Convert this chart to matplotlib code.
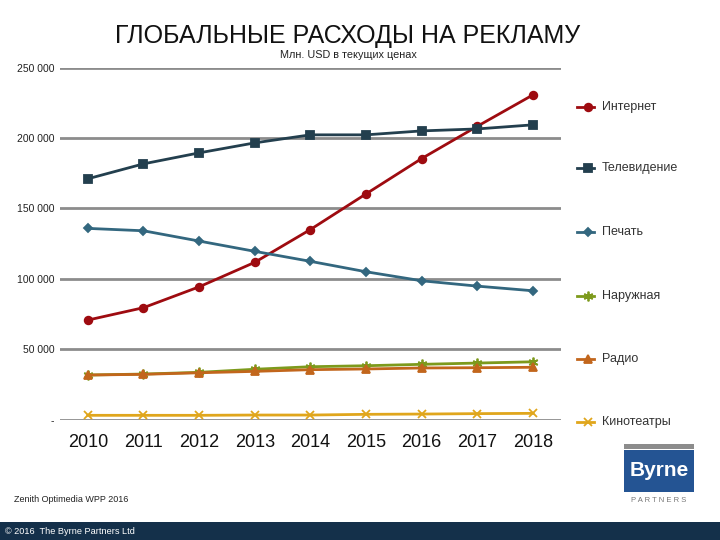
import matplotlib
matplotlib.use("Agg")
import matplotlib.pyplot as plt
from matplotlib.patches import Rectangle

plt.rcParams['font.family'] = ['Liberation Sans', 'DejaVu Sans']

years = ['2010', '2011', '2012', '2013', '2014', '2015', '2016', '2017', '2018']
internet = [70700, 79500, 94300, 111700, 135000, 160300, 185400, 208300, 230600]
tv = [171000, 181600, 189400, 196500, 202200, 202200, 205000, 206400, 209300]
press = [135800, 134100, 126800, 119500, 112400, 105000, 98600, 94800, 91500]
outdoor = [31700, 32400, 33600, 35800, 37600, 38300, 39300, 40200, 41100]
radio = [31700, 32200, 33300, 34300, 35500, 36000, 36700, 36900, 37200]
cinema = [3100, 3100, 3100, 3300, 3300, 3800, 4000, 4300, 4500]

series_names = ['Интернет', 'Телевидение', 'Печать', 'Наружная', 'Радио', 'Кинотеатры']
series_values = [internet, tv, press, outdoor, radio, cinema]
colors = ['#9e0b10', '#233f4e', '#33677f', '#7d9a1c', '#c2661c', '#e0a61c']
markers = ['o', 's', 'D', (6, 2, 0), '^', 'x']
msizes = [5.5, 5.5, 4, 7, 5.5, 6]

yticks = [0, 50000, 100000, 150000, 200000, 250000]
ytick_labels = ['-', '50 000', '100 000', '150 000', '200 000', '250 000']

fig = plt.figure(figsize=(7.2, 5.4), dpi=100)
ax = fig.add_axes([0.0833, 0.2228, 0.6957, 0.6522])

x = list(range(len(years)))
for name, vals, c, m, ms in zip(series_names, series_values, colors, markers, msizes):
    ax.plot(x, vals, color=c, lw=2.0, marker=m, ms=ms, mew=1.3, mfc=c, mec=c,
            label=name, zorder=3)

ax.set_xlim(-0.5, len(years) - 0.5)
ax.set_ylim(0, 250000)
ax.set_yticks(yticks)
ax.set_yticklabels(ytick_labels, fontsize=7.5, color='#222222')
ax.set_xticks(x)
ax.set_xticklabels(years, fontsize=13, color='#111111')
ax.tick_params(axis='both', length=0)
ax.tick_params(axis='y', pad=4)
ax.tick_params(axis='x', pad=10)
ax.grid(axis='y', color='#8c8c8c', lw=2, zorder=1)
ax.set_axisbelow(True)
for s in ax.spines.values():
    s.set_visible(False)

# legend entries placed at right
leg_y = [107, 168, 232, 296, 359, 422]
for name, c, m, ms, yy in zip(series_names, colors, markers, msizes, leg_y):
    yf = 1 - yy / 540
    fig.add_artist(plt.Line2D([577 / 720, 594 / 720], [yf, yf], color=c, lw=2.0,
                              transform=fig.transFigure))
    fig.add_artist(plt.Line2D([588 / 720], [yf], color=c, marker=m, ms=ms, mew=1.3,
                              mfc=c, mec=c, transform=fig.transFigure))
    fig.text(602 / 720, yf, name, fontsize=9, color='#333333', va='center', ha='left')

fig.text(348 / 720, 1 - 36 / 540, 'ГЛОБАЛЬНЫЕ РАСХОДЫ НА РЕКЛАМУ', fontsize=18,
         ha='center', va='center', color='#111111')
fig.text(348 / 720, 1 - 55 / 540, 'Млн. USD в текущих ценах', fontsize=7.8,
         ha='center', va='center', color='#222222')

fig.text(14 / 720, 1 - 500 / 540, 'Zenith Optimedia WPP 2016', fontsize=6.5,
         ha='left', va='center', color='#222222')

# footer band
fig.add_artist(Rectangle((0, 0), 1, 18 / 540, transform=fig.transFigure,
                         facecolor='#14304a', edgecolor='none'))
fig.text(5 / 720, 9 / 540, '© 2016  The Byrne Partners Ltd', fontsize=6.6,
         ha='left', va='center', color='white')

# logo
fig.add_artist(Rectangle((624 / 720, 1 - 449 / 540), 70 / 720, 5 / 540,
                         transform=fig.transFigure, facecolor='#8c8c8c', edgecolor='none'))
fig.add_artist(Rectangle((624 / 720, 1 - 492 / 540), 70 / 720, 42 / 540,
                         transform=fig.transFigure, facecolor='#245493', edgecolor='none'))
fig.text(659 / 720, 1 - 470 / 540, 'Byrne', fontsize=15, fontweight='bold',
         ha='center', va='center', color='white')
fig.text(659 / 720, 1 - 501 / 540, 'P A R T N E R S', fontsize=5.5,
         ha='center', va='center', color='#777777')

fig.savefig('out.png', dpi=100)
